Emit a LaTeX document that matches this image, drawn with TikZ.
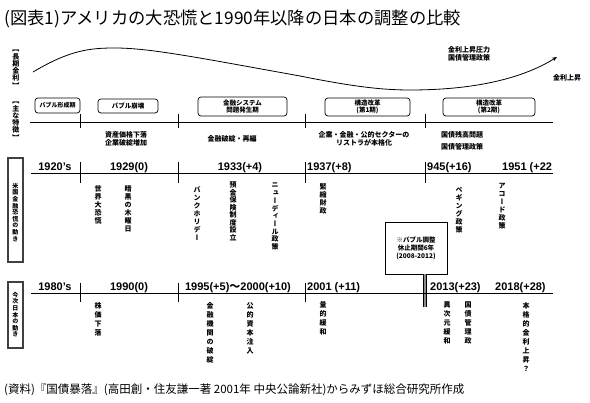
\documentclass[tikz,border=0pt]{standalone}
\usepackage{fontspec}
\setmainfont{Liberation Sans}
\newfontfamily\jp{Noto Sans CJK JP}
\newfontfamily\vjp[RawFeature=+vert]{Noto Sans CJK JP}
\usetikzlibrary{arrows.meta}
\ExplSyntaxOn
\NewDocumentCommand\vt{O{8pt}m}
 {
  \vbox{ \baselineskip=#1 \relax \lineskip=0pt \lineskiplimit=-\maxdimen
   \tl_map_inline:nn {#2} { \hbox_to_wd:nn {1em} { \hfil ##1 \hfil } } }
 }
\ExplSyntaxOff
\tikzset{
 ttl/.style={font=\jp\fontsize{17.3}{19}\selectfont, anchor=west, inner sep=0},
 small/.style={font=\jp\bfseries\fontsize{7}{8.5}\selectfont, inner sep=0, align=center},
 phase/.style={draw, rounded corners=3pt, line width=0.7pt, inner sep=0, font=\jp\bfseries\fontsize{6.5}{7.5}\selectfont, align=center},
 yr/.style={font=\bfseries\fontsize{11}{12}\selectfont, inner sep=0, anchor=base},
 yrl/.style={yr, anchor=base west},
 vus/.style={font=\vjp\bfseries\fontsize{7}{8}\selectfont, inner sep=0, anchor=north},
 vside/.style={font=\vjp\bfseries\fontsize{6}{7}\selectfont, inner sep=0, anchor=north},
 tline/.style={line width=0.8pt},
 sidebox/.style={draw=black!75, line width=1.5pt, inner sep=0},
}
\begin{document}
\begin{tikzpicture}[x=1pt,y=-1pt]
\useasboundingbox (0,0) rectangle (590,403);
% title
\node[ttl] (title) at (4,19) {(図表1)アメリカの大恐慌と1990年以降の日本の調整の比較};
% long-term rate curve
\coordinate (cs) at (33,72);
\coordinate (ce) at (557,57);
\draw[line width=0.8pt, -{Stealth[length=5pt,width=4pt]}] (cs) .. controls (70,50) and (90,48) .. (115,48)
  .. controls (150,48) and (200,58) .. (300,76)
  .. controls (350,86) and (380,90) .. (410,90)
  .. controls (470,90) and (520,80) .. (ce);
\node[small, align=left, anchor=west] (rl) at (448,54) {金利上昇圧力\\国債管理政策};
\node[small] (ru) at (567,78) {金利上昇};
% side labels
\node[vus, font=\vjp\bfseries\fontsize{7}{7.3}\selectfont] (l1) at (16,50) {\vt[7.3pt]{【長期金利】}};
\node[vus, font=\vjp\bfseries\fontsize{7}{7.3}\selectfont] (l2) at (16,102) {\vt[7.3pt]{【主な特徴】}};
% phase boxes
\node[phase, minimum width=45, minimum height=15, font=\jp\bfseries\fontsize{6}{7}\selectfont] (p1) at (57.5,105.5) {バブル形成期};
\node[phase, minimum width=60, minimum height=14] (p2) at (128,106) {バブル崩壊};
\node[phase, minimum width=89, minimum height=19] (p3) at (242.5,106.5) {金融システム\\問題発生期};
\node[phase, minimum width=85, minimum height=18] (p4) at (367.5,107) {構造改革\\(第1期)};
\node[phase, minimum width=92, minimum height=18] (p5) at (489,107) {構造改革\\(第2期)};
% feature line
\coordinate (a1) at (30,122); \coordinate (a2) at (553,122);
\draw[tline] (a1) -- (a2);
\foreach \x in {80,178,305,425} \draw[tline] (\x,114) -- (\x,128);
\node[small] (f1) at (126,139) {資産価格下落\\企業破綻増加};
\node[small] (f2) at (232,139) {金融破綻・再編};
\node[small] (f3) at (364,139) {企業・金融・公的セクターの\\リストラが本格化};
\node[small, font=\jp\bfseries\fontsize{7}{12}\selectfont] (f4) at (462,141) {国債残高問題\\国債管理政策};
% US row
\node[sidebox, minimum width=15, minimum height=104] (usb) at (15.5,210) {};
\node[vside] (ust) at (15.5,183) {\vt[6.6pt]{米国金融恐慌の動き}};
\coordinate (b1) at (31,173); \coordinate (b2) at (553,173);
\draw[tline] (b1) -- (b2);
\foreach \x in {80,178,305,425} \draw[tline] (\x,162) -- (\x,183);
\node[yr] (u1) at (55,171) {1920's};
\node[yr] (u2) at (129,171) {1929(0)};
\node[yr] (u3) at (240,171) {1933(+4)};
\node[yrl] (u4) at (307,171) {1937(+8)};
\node[yrl] (u5) at (427,171) {945(+16)};
\node[yrl] (u6) at (502,171) {1951 (+22};
\node[vus] (v1) at (98,185) {\vt{世界大恐慌}};
\node[vus] (v2) at (128,185) {\vt{暗黒の木曜日}};
\node[vus] (v3) at (197,186) {\vt{バンクホリデー}};
\node[vus] (v4) at (233,182) {\vt[7.5pt]{預金保険制度設立}};
\node[vus] (v5) at (275,183) {\vt[7.7pt]{ニューディール政策}};
\node[vus] (v6) at (323,183) {\vt{緊縮財政}};
\node[vus] (v7) at (459,187) {\vt{ペギング政策}};
\node[vus] (v8) at (502,183) {\vt{アコード政策}};
% note box
\node[draw, line width=0.8pt, minimum width=62, minimum height=52, inner sep=0, font=\jp\bfseries\fontsize{6.5}{8}\selectfont, align=center] (note) at (416,248) {※バブル調整\\休止期間6年\\(2008-2012)};
\coordinate (tj) at (425,307);
\draw[double=black!45, double distance=2pt, line width=0.6pt] (note.south -| tj) -- (tj);
% Japan row
\node[sidebox, minimum width=15, minimum height=66] (jpb) at (15.5,315) {};
\node[vside] (jpt) at (15.5,292) {\vt[6.6pt]{今次日本の動き}};
\coordinate (c1) at (31,293); \coordinate (c2) at (553,293);
\draw[tline] (c1) -- (c2);
\foreach \x in {80,178,305} \draw[tline] (\x,283) -- (\x,302);
\node[yr] (j1) at (55,291) {1980's};
\node[yr] (j2) at (129,291) {1990(0)};
\node[yr] (j3) at (238,291) {1995(+5){\jp ～}2000(+10)};
\node[yrl] (j4) at (307,291) {2001 (+11)};
\node[yrl] (j5) at (430,291) {2013(+23)};
\node[yrl] (j6) at (495,291) {2018(+28)};
\node[vus] (w1) at (98,302) {\vt[9pt]{株価下落}};
\node[vus] (w2) at (210,302) {\vt[9pt]{金融機関の破綻}};
\node[vus] (w3) at (250,302) {\vt[9pt]{公的資本注入}};
\node[vus] (w4) at (323,302) {\vt[9pt]{量的緩和}};
\node[vus] (w5) at (447,302) {\vt[9pt]{異次元緩和}};
\node[vus] (w6) at (468,302) {\vt[9pt]{国債管理政}};
\node[vus] (w7) at (526,302) {\vt[9pt]{本格的金利上昇？}};
% source
\node[ttl, font=\jp\fontsize{11.5}{12}\selectfont] (src) at (4,390) {(資料)『国債暴落』(高田創・住友謙一著 2001年 中央公論新社)からみずほ総合研究所作成};
\end{tikzpicture}
\end{document}
